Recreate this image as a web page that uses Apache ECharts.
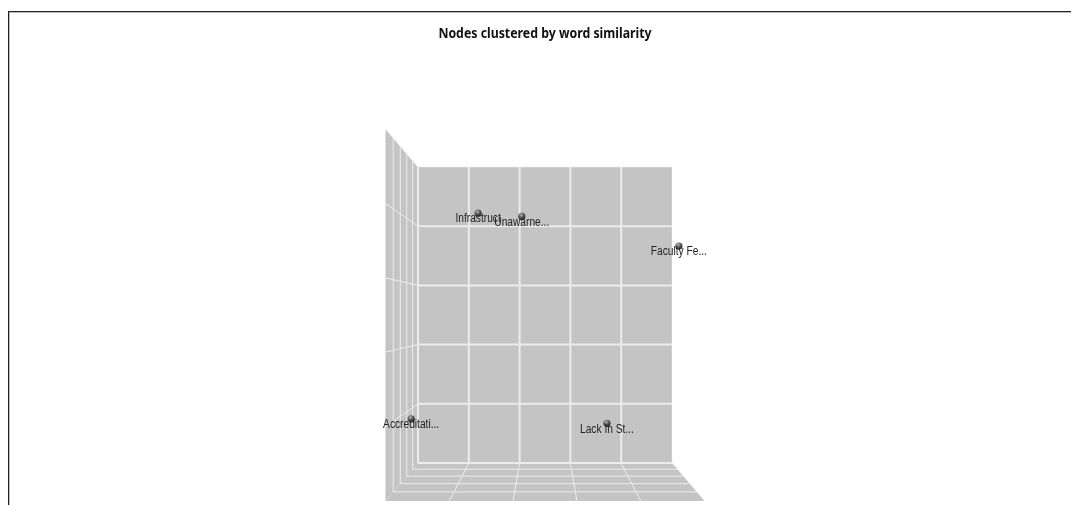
<!DOCTYPE html>
<html>
<head>
<meta charset="utf-8">
<script src="https://cdn.jsdelivr.net/npm/echarts@6/dist/echarts.min.js"></script>
<style>
    html, body { margin: 0; padding: 0; background: #fff; overflow: hidden; }
    #chart { position: absolute; left: 0; top: 0; width: 1071px; height: 505px; filter: blur(0.4px); }
    #frame { position: absolute; left: 8px; top: 11px; right: 0; bottom: 0; border-top: 1px solid #222; border-left: 1px solid #222; box-shadow: inset 1px 1px 0 #bbb; }
</style>
</head>
<body>
<div id="chart"></div>
<div id="frame"></div>
<script>
// the chart data
let chartTitle = 'Nodes clustered by word similarity';
let nodeNames = ['Infrastruct', 'Unawarne...', 'Faculty Fe...', 'Accreditati...', 'Lack In St...'];
let nodeX = [1.29, 2.08, 4.92, 0.08, 3.62];
let nodeY = [4.08, 4.03, 3.57, 0.89, 0.82];
let nodeZ = [2, 2, 2, 2, 2];
let xTicks = [0, 1, 2, 3, 4, 5];
let yTicks = [0, 1, 2, 3, 4, 5];
let zTicks = [0, 1, 2, 3, 4, 5];

let maxTick = 5;
let depthStep = 0.0408;

// perspective towards the middle of the back wall
function project(api, x, y, z) {
    let p = api.coord([x, y]);
    let c = api.coord([maxTick / 2, maxTick / 2]);
    let s = 1 / (1 - depthStep * z);
    return [c[0] + (p[0] - c[0]) * s, c[1] + (p[1] - c[1]) * s];
}

function wall(points) {
    return { type: 'polygon', shape: { points: points }, style: { fill: '#c4c4c4' } };
}

function gridLine(a, b, width) {
    return {
        type: 'line',
        shape: { x1: a[0], y1: a[1], x2: b[0], y2: b[1] },
        style: { stroke: '#ececec', lineWidth: width }
    };
}

function renderBox(params, api) {
    let m = maxTick;
    let P = function (x, y, z) { return project(api, x, y, z); };
    let children = [
        wall([P(0, 0, 0), P(m, 0, 0), P(m, m, 0), P(0, m, 0)]),
        wall([P(0, 0, 0), P(0, m, 0), P(0, m, m), P(0, 0, m)]),
        wall([P(0, 0, 0), P(m, 0, 0), P(m, 0, m), P(0, 0, m)])
    ];
    // the outer edges of the back wall stay thin, the inner lines are heavier
    xTicks.forEach(function (t) {
        children.push(gridLine(P(t, 0, 0), P(t, m, 0), t === m ? 0.5 : 2));
        if (t > 0 && t < m) children.push(gridLine(P(t, 0, 0), P(t, 0, m), 1));
    });
    yTicks.forEach(function (t) {
        children.push(gridLine(P(0, t, 0), P(m, t, 0), t === m ? 0.5 : 2));
        if (t > 0) children.push(gridLine(P(0, t, 0), P(0, t, m), 1));
    });
    zTicks.forEach(function (t) {
        if (t === m) return;
        children.push(gridLine(P(0, 0, t), P(m, 0, t), t === 0 ? 2 : 1));
        children.push(gridLine(P(0, 0, t), P(0, m, t), t === 0 ? 2 : 1));
    });
    return { type: 'group', children: children };
}

function renderNode(params, api) {
    let p = project(api, api.value(0), api.value(1), api.value(2));
    return {
        type: 'group',
        children: [
            {
                type: 'circle',
                shape: { cx: p[0], cy: p[1], r: 3.6 },
                style: {
                    fill: {
                        type: 'radial', x: 0.4, y: 0.3, r: 0.75,
                        colorStops: [
                            { offset: 0, color: '#b5b5b5' },
                            { offset: 0.5, color: '#555555' },
                            { offset: 1, color: '#1c1c1c' }
                        ]
                    }
                }
            },
            {
                type: 'text',
                x: p[0],
                y: p[1] + 6,
                scaleX: 0.85,
                style: {
                    text: nodeNames[params.dataIndex],
                    fill: '#222',
                    font: '12px "Liberation Sans", Arial, sans-serif',
                    align: 'center',
                    verticalAlign: 'middle'
                }
            }
        ]
    };
}

let nodeData = [];
for (let i = 0; i < nodeNames.length; i++) {
    nodeData.push([nodeX[i], nodeY[i], nodeZ[i]]);
}

let option = {
    animation: false,
    backgroundColor: '#fff',
    graphic: [{
        type: 'text',
        x: 545,
        y: 34,
        scaleX: 0.88,
        style: {
            text: chartTitle,
            fill: '#111',
            font: 'bold 14px "Noto Sans", sans-serif',
            align: 'center',
            verticalAlign: 'middle'
        }
    }],
    grid: { left: 418, top: 167, width: 254, height: 296 },
    xAxis: { type: 'value', min: 0, max: maxTick, show: false },
    yAxis: { type: 'value', min: 0, max: maxTick, show: false },
    series: [
        { type: 'custom', silent: true, clip: false, renderItem: renderBox, data: [[0, 0]], z: 1 },
        { type: 'custom', clip: false, renderItem: renderNode, data: nodeData, encode: { x: 0, y: 1 }, z: 2 }
    ]
};

let myChart = echarts.init(document.getElementById('chart'));
myChart.setOption(option);
</script>
</body>
</html>
